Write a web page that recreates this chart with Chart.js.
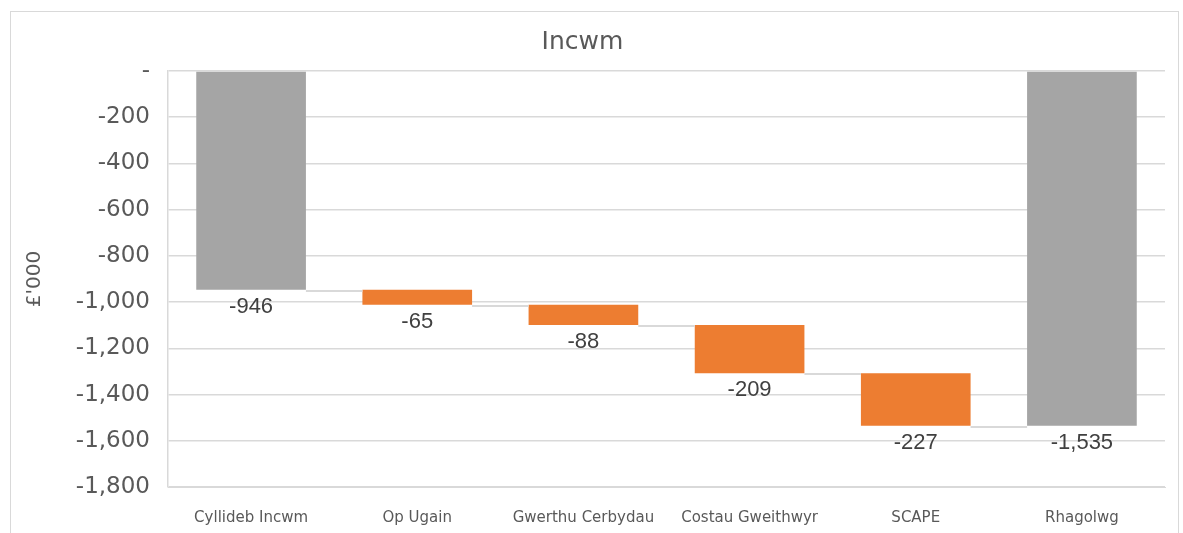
<!DOCTYPE html>
<html><head><meta charset="utf-8">
<script src="https://cdn.jsdelivr.net/npm/chart.js@4"></script>
<style>html,body{margin:0;padding:0;background:#fff}#wrap{width:1183px;height:533px;position:relative}</style>
</head><body>
<div id="wrap"><canvas id="c" width="1183" height="533"></canvas></div>
<script>
const categories = ['Cyllideb Incwm','Op Ugain','Gwerthu Cerbydau','Costau Gweithwyr','SCAPE','Rhagolwg'];
const values = [-946, -65, -88, -209, -227, -1535];
const isTotal = [true, false, false, false, false, true];
const valueLabels = ['-946','-65','-88','-209','-227','-1,535'];
const yTickValues = [0,-200,-400,-600,-800,-1000,-1200,-1400,-1600,-1800];
const yTickLabels = ['-','-200','-400','-600','-800','-1,000','-1,200','-1,400','-1,600','-1,800'];
const chartTitle = 'Incwm';
const yTitle = "£'000";

const GREY = '#A5A5A5', ORANGE = '#ED7D31', GRID = '#d9d9d9', TXT = '#595959';

// build floating ranges for the waterfall
const ranges = [];
const ends = [];
let running = 0;
values.forEach((v, i) => {
  if (isTotal[i]) { ranges.push([0, v]); running = v; }
  else { ranges.push([running, running + v]); running += v; }
  ends.push(running);
});

const framePlugin = {
  id: 'frame',
  beforeDraw(chart) {
    const ctx = chart.ctx;
    ctx.save();
    ctx.fillStyle = '#fff';
    ctx.fillRect(0, 0, chart.width, chart.height);
    ctx.strokeStyle = GRID;
    ctx.lineWidth = 1;
    ctx.strokeRect(10.5, 11.5, 1168, 540);
    ctx.restore();
  }
};

const waterfallPlugin = {
  id: 'waterfall',
  afterDatasetsDraw(chart) {
    const ctx = chart.ctx;
    const meta = chart.getDatasetMeta(0);
    const y = chart.scales.y;
    ctx.save();
    // connectors
    ctx.strokeStyle = GRID;
    ctx.lineWidth = 2;
    for (let i = 0; i < meta.data.length - 1; i++) {
      const a = meta.data[i], b = meta.data[i + 1];
      const py = Math.round(y.getPixelForValue(ends[i])) + 1;
      ctx.beginPath();
      ctx.moveTo(a.x + a.width / 2, py);
      ctx.lineTo(b.x - b.width / 2, py);
      ctx.stroke();
    }
    // value labels below each bar
    ctx.fillStyle = '#404040';
    ctx.font = '22px "Liberation Sans", Arial, sans-serif';
    ctx.textAlign = 'center';
    ctx.textBaseline = 'alphabetic';
    meta.data.forEach((el, i) => {
      const bottom = y.getPixelForValue(Math.min(...ranges[i]));
      ctx.fillText(valueLabels[i], el.x, bottom + 23);
    });
    ctx.restore();
  }
};

new Chart(document.getElementById('c'), {
  type: 'bar',
  data: {
    labels: categories,
    datasets: [{
      data: ranges,
      backgroundColor: isTotal.map(t => t ? GREY : ORANGE),
      borderWidth: 0,
      categoryPercentage: 1,
      barPercentage: 0.66
    }]
  },
  options: {
    responsive: false,
    animation: false,
    layout: { padding: { left: 0, right: 18, top: 0, bottom: 0 } },
    plugins: {
      legend: { display: false },
      tooltip: { enabled: false },
      title: {
        display: true,
        text: chartTitle,
        color: TXT,
        font: { family: '"DejaVu Sans", sans-serif', size: 25, weight: 'normal', lineHeight: 1.2 },
        padding: { top: 27, bottom: 14 }
      }
    },
    scales: {
      x: {
        grid: { display: false, drawTicks: false },
        border: { display: true, color: GRID, width: 1 },
        ticks: {
          color: TXT,
          font: { family: '"DejaVu Sans", sans-serif', size: 15 },
          padding: 22,
          maxRotation: 0, autoSkip: false
        },
        afterFit(scale) { scale.height = 46; }
      },
      y: {
        min: -1800, max: 0,
        grid: { color: GRID, lineWidth: 1.5, drawTicks: false },
        border: { display: true, color: GRID, width: 1.5 },
        afterBuildTicks(scale) { scale.ticks = yTickValues.map(v => ({ value: v })); },
        ticks: {
          color: TXT,
          font: { family: '"DejaVu Sans", sans-serif', size: 23 },
          padding: 18,
          callback(value) {
            const i = yTickValues.indexOf(value);
            return i >= 0 ? yTickLabels[i] : '';
          }
        },
        title: {
          display: true,
          text: yTitle,
          color: TXT,
          font: { family: '"DejaVu Sans", sans-serif', size: 20 },
          padding: { top: 23, bottom: 0 }
        },
        afterFit(scale) { scale.width = 168; }
      }
    }
  },
  plugins: [framePlugin, waterfallPlugin]
});
</script>
</body></html>
